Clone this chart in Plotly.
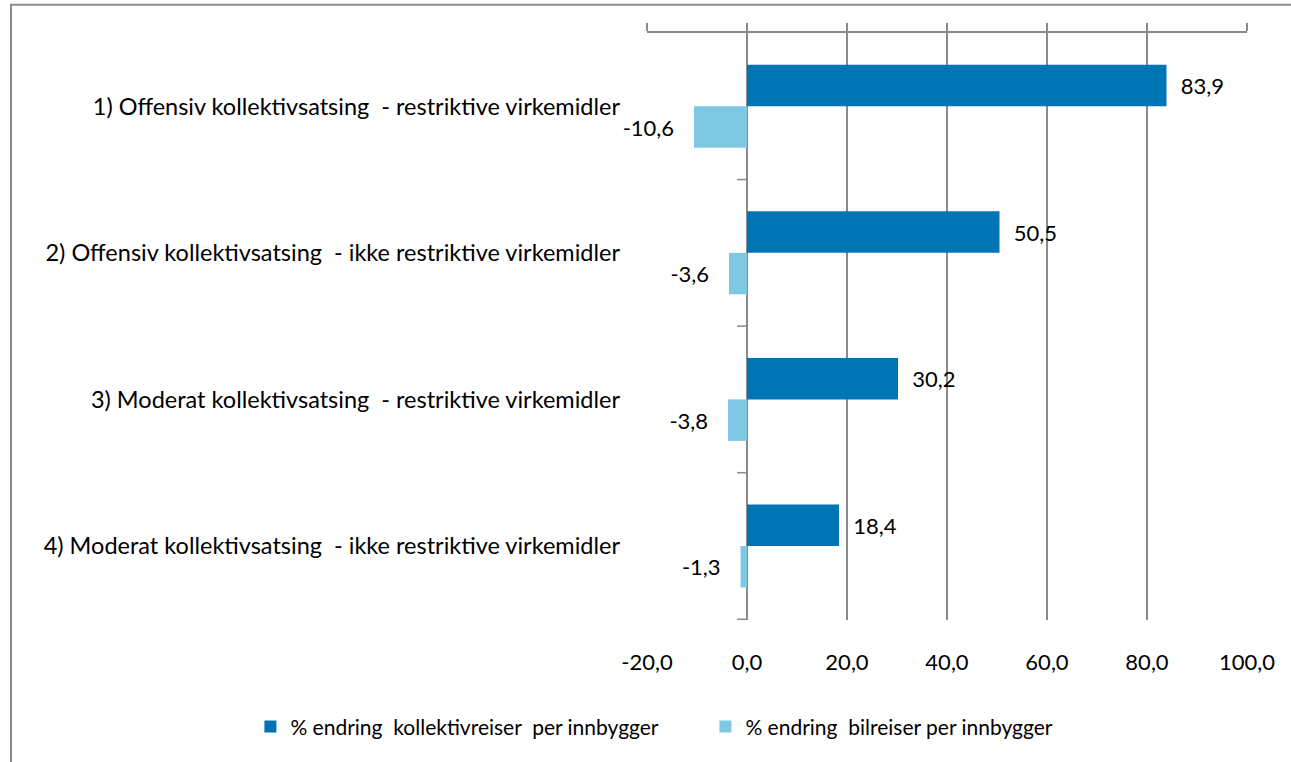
import plotly.graph_objects as go

CATEGORIES = [
    "1) Offensiv kollektivsatsing  - restriktive virkemidler",
    "2) Offensiv kollektivsatsing  - ikke restriktive virkemidler",
    "3) Moderat kollektivsatsing  - restriktive virkemidler",
    "4) Moderat kollektivsatsing  - ikke restriktive virkemidler",
]
KOLLEKTIV = [83.9, 50.5, 30.2, 18.4]
BIL = [-10.6, -3.6, -3.8, -1.3]
SERIES_NAMES = [
    "% endring  kollektivreiser  per innbygger",
    "% endring  bilreiser per innbygger",
]
X_TICKS = [-20, 0, 20, 40, 60, 80, 100]

COLORS = ["#0174b6", "#7ec8e4"]
GRID = "#8a8a8a"
FONT = "Lato, 'Open Sans', sans-serif"


def _fmt(v: float) -> str:
    # Norwegian decimal comma, plain hyphen minus
    return f"{v:.1f}".replace(".", ",")


fig = go.Figure()
for name, vals, col in zip(SERIES_NAMES, [KOLLEKTIV, BIL], COLORS):
    labels = [("  " + _fmt(v)) if v >= 0 else (_fmt(v) + "   ") for v in vals]
    fig.add_trace(
        go.Bar(
            name=name,
            y=CATEGORIES,
            x=vals,
            orientation="h",
            marker=dict(color=col, line=dict(width=0)),
            text=labels,
            textposition="outside",
            textfont=dict(size=22, color="#000000"),
            cliponaxis=False,
            hoverinfo="skip",
        )
    )

# invisible helper so the top axis (line + outward ticks) gets drawn
fig.add_trace(
    go.Scatter(
        x=KOLLEKTIV, y=CATEGORIES, xaxis="x2", mode="markers",
        marker=dict(opacity=0), showlegend=False, hoverinfo="skip",
    )
)

# category boundary ticks on the zero line
for i in range(len(CATEGORIES)):
    fig.add_shape(
        type="line", xref="x", yref="y", x0=-2, x1=0, y0=i + 0.5, y1=i + 0.5,
        line=dict(color=GRID, width=1.5), layer="above",
    )

# outer frame
fig.add_shape(
    type="rect", xref="paper", yref="paper", x0=-1.06, x1=1.09, y0=-0.27, y1=1.048,
    line=dict(color="#8c8c8c", width=2), fillcolor="rgba(0,0,0,0)",
)

fig.update_layout(
    width=1291,
    height=762,
    barmode="group",
    bargap=0.434,
    bargroupgap=0,
    plot_bgcolor="white",
    paper_bgcolor="white",
    font=dict(family=FONT, size=22, color="#000000"),
    margin=dict(l=647, r=44, t=33, b=142, autoexpand=False),
    showlegend=True,
    legend=dict(
        orientation="h",
        x=-0.661,
        xanchor="left",
        y=-0.182,
        yanchor="middle",
        font=dict(size=21),
        entrywidth=410,
        traceorder="normal",
    ),
    xaxis=dict(
        range=[-20, 100],
        tickmode="array",
        tickvals=X_TICKS,
        ticktext=[_fmt(v) for v in X_TICKS],
        showgrid=True,
        gridcolor=GRID,
        gridwidth=1.5,
        zeroline=True,
        zerolinecolor=GRID,
        zerolinewidth=2,
        showline=False,
        ticks="outside",
        ticklen=23,
        tickcolor="rgba(0,0,0,0)",
        tickfont=dict(size=22),
        fixedrange=True,
    ),
    xaxis2=dict(
        overlaying="x",
        matches="x",
        side="top",
        tickmode="array",
        tickvals=X_TICKS,
        showline=True,
        linecolor=GRID,
        linewidth=1.5,
        ticks="outside",
        ticklen=8,
        tickcolor=GRID,
        tickwidth=1.5,
        showticklabels=False,
        showgrid=False,
        zeroline=False,
    ),
    yaxis=dict(
        autorange="reversed",
        showgrid=False,
        showline=False,
        ticks="",
        ticklabelstandoff=26,
        tickfont=dict(size=23.5),
    ),
)

fig.write_html(
    "out.html",
    config={"displayModeBar": False},
    post_script="document.body.style.margin='0';document.body.style.overflow='hidden';",
)
